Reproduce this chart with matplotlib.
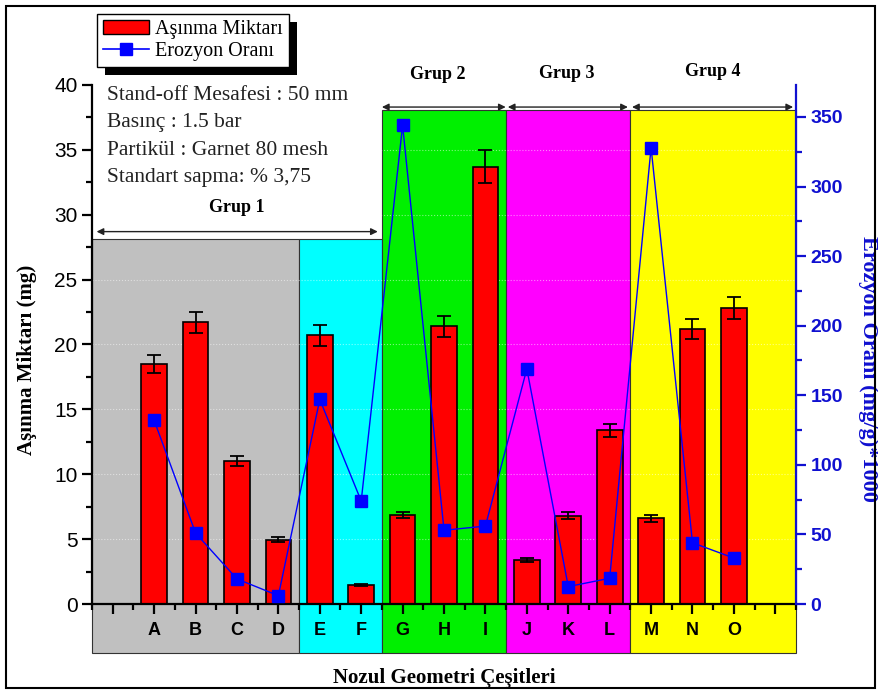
import numpy as np
import matplotlib
matplotlib.use("Agg")
import matplotlib.pyplot as plt
from matplotlib.patches import Rectangle, Patch
from matplotlib.lines import Line2D

# data
kategoriler = ["A", "B", "C", "D", "E", "F", "G", "H", "I", "J", "K", "L", "M", "N", "O"]
asinma = [18.5, 21.7, 11.0, 4.95, 20.7, 1.5, 6.85, 21.4, 33.7, 3.4, 6.8, 13.4, 6.6, 21.2, 22.8]
hata = [0.7, 0.8, 0.4, 0.2, 0.8, 0.08, 0.26, 0.8, 1.26, 0.13, 0.26, 0.5, 0.25, 0.8, 0.85]
erozyon = [132, 51, 18, 6, 147, 74, 344, 53, 56, 169, 12.5, 18.5, 328, 44, 33]

gruplar = ["Grup 1", "Grup 2", "Grup 3", "Grup 4"]
bolge_renk = ["#c0c0c0", "#00ffff", "#00f000", "#ff00ff", "#ffff00"]

x = np.arange(1, len(kategoriler) + 1)

serif = "Liberation Serif"
sans = "Liberation Sans"

fig = plt.figure(figsize=(8.79, 6.91), dpi=100)
ax = fig.add_axes([0.1047, 0.1259, 0.8009, 0.7511])

# coloured background regions (kept in data coords, spill below axis)
sinirlar = [-0.5, 4.5, 6.5, 9.5, 12.5, 16.5]
ustler = [28.1, 28.1, 38.1, 38.1, 38.1]
for i in range(5):
    r = Rectangle((sinirlar[i], -3.75), sinirlar[i + 1] - sinirlar[i], ustler[i] + 3.75,
                  facecolor=bolge_renk[i], edgecolor="#333333", lw=0.8,
                  zorder=0.2, clip_on=False)
    ax.add_patch(r)

ax.bar(x, asinma, width=0.62, color="#ff0000", edgecolor="black", lw=1.2, zorder=2)
ax.errorbar(x, asinma, yerr=hata, fmt="none", ecolor="black", elinewidth=1.3,
            capsize=5, capthick=1.3, zorder=3)

ax.set_xlim(-0.5, 16.5)
ax.set_ylim(0, 40)
ax.set_xticks(np.arange(0, 17))
ax.set_xticklabels([""] + kategoriler + [""], fontfamily=sans, fontweight="bold", fontsize=13)
ax.set_xticks(np.arange(-0.5, 17, 1), minor=True)
ax.set_yticks(np.arange(0, 41, 5))
ax.set_yticks(np.arange(0, 41, 2.5), minor=True)
for t in ax.get_yticklabels():
    t.set_fontfamily(sans)
    t.set_fontsize(15)
ax.tick_params(axis="both", which="major", direction="out", length=7, width=1.6)
ax.tick_params(axis="both", which="minor", direction="out", length=4, width=1.6)
ax.tick_params(axis="x", which="both", pad=6)

ax.grid(axis="y", color="white", linestyle=":", lw=0.8, alpha=0.5)
ax.set_axisbelow(True)
ax.spines["top"].set_visible(False)
ax.spines["right"].set_visible(False)
ax.spines["left"].set_linewidth(1.6)
ax.spines["bottom"].set_linewidth(1.6)
ax.set_facecolor("none")

ax.set_ylabel("Aşınma Miktarı (mg)", fontfamily=serif, fontweight="bold", fontsize=15)
ax.yaxis.set_label_coords(-0.078, 0.47)
ax.set_xlabel("Nozul Geometri Çeşitleri", fontfamily=serif, fontweight="bold", fontsize=15, labelpad=21)

# info text
ax.text(-0.15, 39.9, "Stand-off Mesafesi : 50 mm\nBasınç : 1.5 bar\nPartikül : Garnet 80 mesh\nStandart sapma: % 3,75",
        fontfamily=serif, fontsize=15.5, va="top", ha="left", linespacing=1.58, color="#222222")

# group arrows
oklar = [(-0.39, 6.4, 28.7), (6.5, 9.49, 38.3), (9.54, 12.44, 38.3), (12.54, 16.43, 38.3)]
etiket_yer = [(3.0, 29.9), (7.85, 40.15), (10.97, 40.2), (14.5, 40.4)]
for (x0, x1, yy), (lx, ly), g in zip(oklar, etiket_yer, gruplar):
    ax.annotate("", xy=(x1, yy), xytext=(x0, yy), annotation_clip=False,
                arrowprops=dict(arrowstyle="<|-|>", color="#222222", lw=1.0,
                                mutation_scale=10, shrinkA=0, shrinkB=0))
    ax.text(lx, ly, g, fontfamily=serif, fontweight="bold", fontsize=13,
            ha="center", va="bottom", clip_on=False)

# right axis
ax2 = ax.twinx()
ax2.plot(x, erozyon, color="#0000ff", lw=1.0, marker="s", markersize=9,
         markerfacecolor="#0000ff", markeredgecolor="#0000ff", zorder=5)
ax2.set_ylim(0, 373)
ax2.set_yticks(np.arange(0, 351, 50))
ax2.set_yticks(np.arange(0, 373, 25), minor=True)
for t in ax2.get_yticklabels():
    t.set_fontfamily(sans)
    t.set_fontweight("bold")
    t.set_fontsize(14)
    t.set_color("#1010d0")
ax2.tick_params(axis="y", which="major", direction="out", length=7, width=1.6, color="#1010d0")
ax2.tick_params(axis="y", which="minor", direction="out", length=4, width=1.6, color="#1010d0")
for s in ["top", "left", "bottom"]:
    ax2.spines[s].set_visible(False)
ax2.spines["right"].set_color("#1010d0")
ax2.spines["right"].set_linewidth(1.6)
ax2.set_ylabel("Erozyon Oranı (mg/g)*1000", fontfamily=serif, fontweight="bold", fontsize=16,
               color="#1010d0", rotation=270, va="center")
ax2.yaxis.set_label_coords(1.102, 0.453)

# legend with hard black shadow
h1 = Patch(facecolor="#ff0000", edgecolor="black", lw=1.0)
h2 = Line2D([], [], color="#0000ff", lw=1.2, marker="s", markersize=8)
leg = fig.legend([h1, h2], ["Aşınma Miktarı", "Erozyon Oranı"], loc="upper left",
                 bbox_to_anchor=(97 / 879, 1 - 14 / 691), frameon=True, fancybox=False,
                 edgecolor="black", framealpha=1, prop={"family": serif, "size": 14.5},
                 borderpad=0.3, labelspacing=0.15, handlelength=2.3, handletextpad=0.3,
                 borderaxespad=0)
leg.get_frame().set_linewidth(1.0)
fig.canvas.draw()
bb = leg.get_window_extent()
fig.patches.append(Rectangle((bb.x0 + 8, bb.y0 - 8), bb.width, bb.height, transform=None,
                             facecolor="black", edgecolor="none", zorder=4))

# outer frame
fig.patches.append(Rectangle((0.007, 0.004), 0.988, 0.988, transform=fig.transFigure,
                             fill=False, edgecolor="black", lw=1.5, zorder=0))

fig.savefig("out.png", dpi=100)
